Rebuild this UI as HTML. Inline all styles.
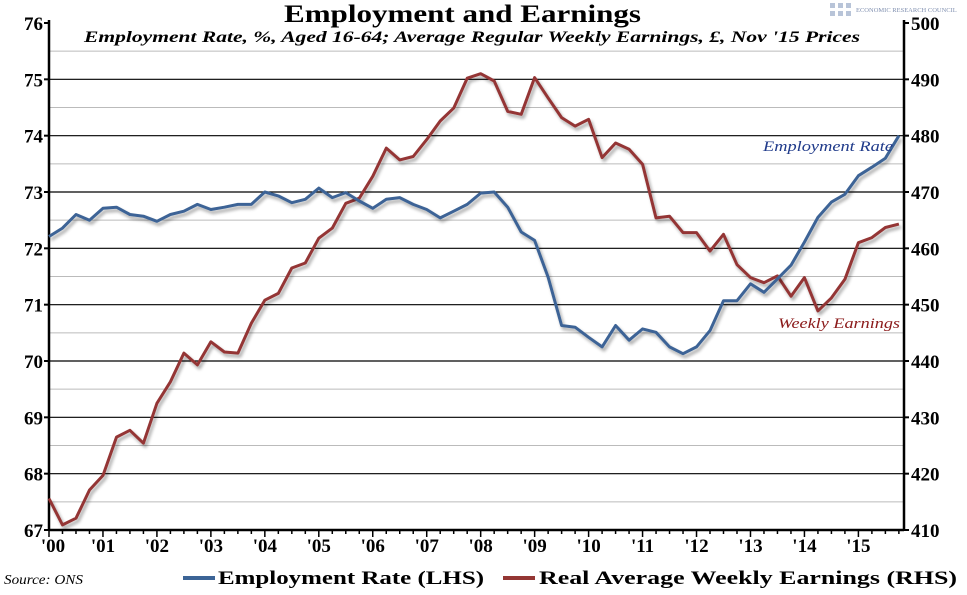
<!DOCTYPE html>
<html><head><meta charset="utf-8"><style>
body{margin:0;background:#fff;}
svg text{font-family:"Liberation Serif",serif;}
</style></head><body>
<svg id="chart" width="967" height="590" viewBox="0 0 967 590" xmlns="http://www.w3.org/2000/svg">
<defs><filter id="sh" x="-5%" y="-5%" width="110%" height="110%"><feGaussianBlur in="SourceAlpha" stdDeviation="1.5"/><feOffset dx="2" dy="3" result="b"/><feComponentTransfer><feFuncA type="linear" slope="0.35"/></feComponentTransfer><feMerge><feMergeNode/><feMergeNode in="SourceGraphic"/></feMerge></filter></defs>
<text x="284" y="22" font-size="25" font-weight="bold" textLength="357" lengthAdjust="spacingAndGlyphs">Employment and Earnings</text>
<text x="84" y="42" font-size="16" font-weight="bold" font-style="italic" textLength="776" lengthAdjust="spacingAndGlyphs">Employment Rate, %, Aged 16-64; Average Regular Weekly Earnings, £, Nov '15 Prices</text>
<g><g fill="#b8c4d8"><rect x="830" y="3" width="5" height="5"/><rect x="838" y="3" width="5" height="5"/><rect x="846" y="3" width="5" height="5"/><rect x="830" y="11" width="5" height="5"/><rect x="838" y="11" width="5" height="5"/><rect x="846" y="11" width="5" height="5"/></g><text x="856" y="12" font-size="6.5" fill="#8090b0" font-family="Liberation Sans, sans-serif">ECONOMIC RESEARCH COUNCIL</text></g>
<g id="grid"></g><g id="axes"></g><g id="series"></g>
<text x="763" y="151" font-size="15" font-style="italic" fill="#1f3a8a" textLength="130" lengthAdjust="spacingAndGlyphs">Employment Rate</text>
<text x="778" y="328" font-size="15" font-style="italic" fill="#8b1a1a" textLength="122" lengthAdjust="spacingAndGlyphs">Weekly Earnings</text>
<text x="4" y="584" font-size="14" font-style="italic" textLength="79" lengthAdjust="spacingAndGlyphs">Source: ONS</text>
<g>
<line x1="183" y1="578" x2="215" y2="578" stroke="#3c6496" stroke-width="4"/>
<text x="218" y="584" font-size="19" font-weight="bold" textLength="266" lengthAdjust="spacingAndGlyphs">Employment Rate (LHS)</text>
<line x1="503" y1="578" x2="535" y2="578" stroke="#943634" stroke-width="4"/>
<text x="539" y="584" font-size="19" font-weight="bold" textLength="418" lengthAdjust="spacingAndGlyphs">Real Average Weekly Earnings (RHS)</text>
</g>
</svg>
<script>
const yearLabels=["'00","'01","'02","'03","'04","'05","'06","'07","'08","'09","'10","'11","'12","'13","'14","'15"];
const leftTicks=[67,68,69,70,71,72,73,74,75,76];
const rightTicks=[410,420,430,440,450,460,470,480,490,500];
const employment=[72.21,72.36,72.6,72.5,72.71,72.73,72.6,72.57,72.48,72.6,72.66,72.78,72.69,72.73,72.78,72.78,73.0,72.93,72.81,72.87,73.07,72.9,72.99,72.84,72.71,72.87,72.9,72.78,72.69,72.54,72.66,72.78,72.98,73.0,72.73,72.29,72.14,71.49,70.63,70.6,70.42,70.25,70.63,70.37,70.57,70.51,70.25,70.13,70.25,70.54,71.07,71.07,71.37,71.22,71.46,71.7,72.11,72.55,72.82,72.96,73.29,73.44,73.6,74.0];
const earnings=[415.6,410.9,412.1,417.1,419.7,426.5,427.7,425.4,432.5,436.3,441.4,439.3,443.4,441.6,441.4,446.7,450.8,452.0,456.5,457.4,461.8,463.6,468.0,468.9,472.8,477.8,475.7,476.3,479.3,482.6,484.9,490.2,491.0,489.7,484.3,483.8,490.3,486.7,483.2,481.7,482.9,476.1,478.7,477.6,474.9,465.4,465.7,462.8,462.8,459.5,462.5,457.1,454.8,453.9,455.1,451.5,454.8,448.9,451.2,454.5,461.0,461.9,463.7,464.3];
const NS="http://www.w3.org/2000/svg";
const X0=49,X1=904,YT=23,YB=530,qPx=53.96/4;
const xq=q=>X0+q*qPx;
const xy=yr=>X0+yr*53.96;
const yL=v=>YB-(v-67)/9*(YB-YT);
const yR=v=>YB-(v-410)/90*(YB-YT);
function mk(tag,attrs,parent){const e=document.createElementNS(NS,tag);for(const k in attrs)e.setAttribute(k,attrs[k]);parent.appendChild(e);return e;}
const grid=document.getElementById('grid'),axes=document.getElementById('axes'),series=document.getElementById('series');
for(let v=67.5;v<76;v+=1){const l=mk('line',{x1:X0,x2:X1,y1:yL(v),y2:yL(v),stroke:'#bbb','stroke-width':1},grid);

}
leftTicks.forEach(v=>{if(v>67&&v<76){const l=mk('line',{x1:X0,x2:X1,y1:yL(v),y2:yL(v),stroke:'#000','stroke-width':1.2},grid);

}
const t=mk('text',{x:X0-6,y:yL(v)+7,'text-anchor':'end','font-size':19,'font-weight':'bold'},axes);t.textContent=v;


mk('line',{x1:X0-5,x2:X0,y1:yL(v),y2:yL(v),stroke:'#000','stroke-width':2},axes);});
rightTicks.forEach(v=>{const t=mk('text',{x:X1+7,y:yR(v)+7,'font-size':19,'font-weight':'bold'},axes);t.textContent=v;


mk('line',{x1:X1,x2:X1+5,y1:yR(v),y2:yR(v),stroke:'#000','stroke-width':2},axes);});
mk('line',{x1:X0,x2:X0,y1:YT-3,y2:YB,stroke:'#000','stroke-width':2.5},axes);
mk('line',{x1:X1,x2:X1,y1:YT-3,y2:YB,stroke:'#000','stroke-width':2.5},axes);
mk('line',{x1:X0,x2:X1,y1:YB,y2:YB,stroke:'#000','stroke-width':2.5},axes);
for(let q=0;xq(q)<=X1;q++){mk('line',{x1:xq(q),x2:xq(q),y1:YB,y2:YB+(q%4?4:7),stroke:'#000','stroke-width':1.5},axes);}
yearLabels.forEach((s,i)=>{const t=mk('text',{x:xy(i)+(i==0?4:0),y:YB+22,'text-anchor':'middle','font-size':19,'font-weight':'bold'},axes);t.textContent=s;

});
function line(arr,ys,color,name){const d=arr.map((v,i)=>(i?'L':'M')+xq(i).toFixed(1)+','+ys(v).toFixed(1)).join('');
const p=mk('path',{d:d,fill:'none',stroke:color,'stroke-width':3,'stroke-linejoin':'round',filter:'url(#sh)'},series);

}
line(earnings,yR,'#943634','earnings-line');
line(employment,yL,'#3c6496','employment-line');
</script>
</body></html>
